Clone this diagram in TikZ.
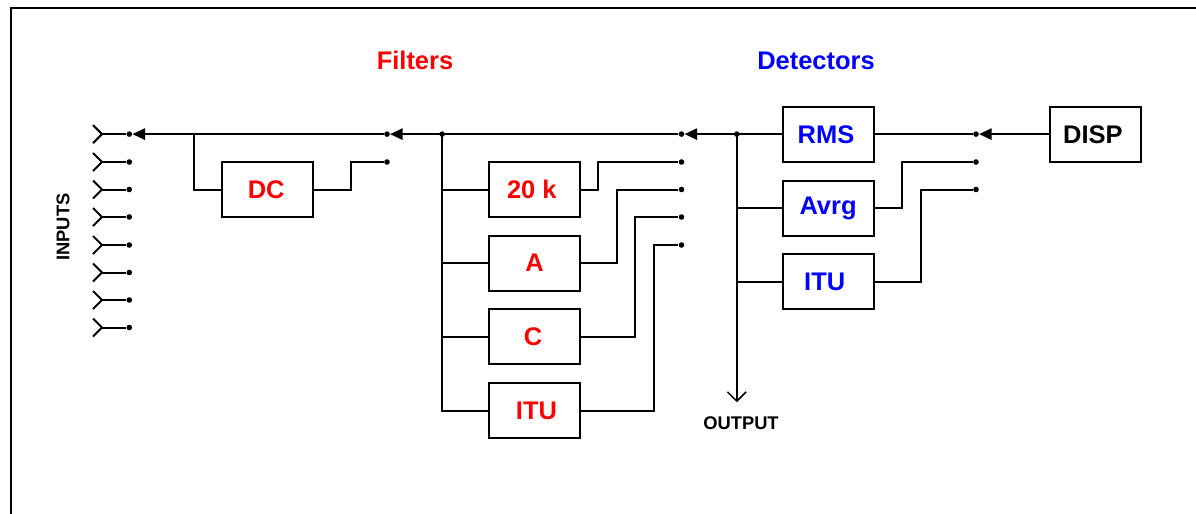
\documentclass[tikz,border=0pt]{standalone}
\usepackage{fontspec}
\setmainfont{Liberation Sans}
\usetikzlibrary{arrows.meta}
\newcommand{\shl}[2]{\hspace*{#1pt}\raisebox{-0.8pt}{#2}}
\tikzset{
  x=0.75pt,y=-0.75pt,
  wire/.style={line width=1.5pt,line join=miter},
  border/.style={line width=1.5pt},
  box/.style={draw,line width=1.5pt,minimum width=68.25pt,minimum height=41.25pt,inner sep=0pt,font=\fontsize{19.1}{22}\selectfont\bfseries},
  fbox/.style={box,text=red},
  dbox/.style={box,text=blue},
  kbox/.style={box,text=black},
  smalldot/.style={circle,fill=black,inner sep=0pt,minimum size=4.2pt},
  feed/.style={wire,-{Triangle[length=9.5pt,width=8.5pt]}},
  outarrow/.style={wire,-{Straight Barb[length=7pt,width=14pt,line width=1.1pt]}},
  title/.style={font=\fontsize{19.1}{22}\selectfont\bfseries},
  small/.style={font=\fontsize{13.75}{16}\selectfont\bfseries},
}
\begin{document}
\begin{tikzpicture}
\useasboundingbox (0,0) rectangle (1196,514);
\draw[border] (10.5,514) -- (10.5,7.5) -- (1196,7.5);

\node[title,text=red] (tf) at (415,60) {Filters};
\node[title,text=blue] (td) at (816,61) {Detectors};
\node[small,rotate=90] (tin) at (63,227) {INPUTS};
\node[small] (tout) at (741,423) {OUTPUT};

% boxes
\node[fbox] (dc) at (267.5,189.5) {\shl{-2}{DC}};
\node[fbox] (k20) at (534.5,189.5) {\shl{-4}{20 k}};
\node[fbox] (a) at (534.5,263.2) {\shl{0}{A}};
\node[fbox] (c) at (534.5,336.6) {\shl{-2}{C}};
\node[fbox] (ituf) at (534.5,410.5) {\shl{3}{ITU}};
\node[dbox] (rms) at (828.7,134.5) {\shl{-4}{RMS}};
\node[dbox] (avrg) at (828.7,208.2) {\shl{-1}{Avrg}};
\node[dbox] (itud) at (828.7,281.6) {\shl{-6}{ITU}};
\node[kbox] (disp) at (1095.5,134.5) {\shl{-4}{DISP}};

% input selector contacts
\foreach \n/\y in {1/134.1,2/162,3/189.5,4/217,5/245,6/272.5,7/300,8/327.5}{
  \node[smalldot] (in\n) at (129.3,\y) {};
  \coordinate (fk\n) at (102,\y);
  \coordinate (fu\n) at (93,\y-9);
  \coordinate (fd\n) at (93,\y+9);
  \draw[wire] (fu\n) -- (fk\n) -- (fd\n);
  \draw[wire] (fk\n) -- (in\n);
}
% filter selector contacts
\node[smalldot] (s1a) at (387,134.1) {};
\node[smalldot] (s1b) at (387,162) {};
\foreach \n/\y in {a/134.1,b/162,c/189.5,d/217,e/245}{
  \node[smalldot] (s2\n) at (681.5,\y) {};
}
\foreach \n/\y in {a/134.1,b/162,c/189.5}{
  \node[smalldot] (s3\n) at (976,\y) {};
}
\node[smalldot] (j1) at (442.1,134.1) {};
\node[smalldot] (j2) at (736.8,134.1) {};
\coordinate (j0) at (193.8,134.1);
\node[minimum size=0pt,inner sep=0pt] (o) at (736.8,402.5) {};

% main signal path
\draw[feed] (disp.west |- s3a) -- (s3a);
\draw[wire] (s3a) -- (rms.east |- s3a);
\draw[wire] (rms.west |- j2) -- (j2.center);
\draw[feed] (j2.center) -- (s2a);
\draw[wire] (s2a) -- (j1.center);
\draw[feed] (j1.center) -- (s1a);
\draw[wire] (s1a) -- (j0);
\draw[feed] (j0) -- (in1);

% DC filter
\draw[wire] (j0) |- (dc.west);
\draw[wire] (dc.east) -- ++(37.2,0) |- (s1b);

% filters
\draw[wire] (j1.center) |- (ituf.west);
\draw[wire] (j1.center) |- (k20.west);
\draw[wire] (j1.center) |- (a.west);
\draw[wire] (j1.center) |- (c.west);
\draw[wire] (k20.east) -- ++(17.4,0) |- (s2b);
\draw[wire] (a.east) -- ++(36.2,0) |- (s2c);
\draw[wire] (c.east) -- ++(54.4,0) |- (s2d);
\draw[wire] (ituf.east) -- ++(73.4,0) |- (s2e);

% detectors
\draw[outarrow] (j2.center) -- (o);
\draw[wire] (j2.center) |- (avrg.west);
\draw[wire] (j2.center) |- (itud.west);
\draw[wire] (avrg.east) -- ++(27,0) |- (s3b);
\draw[wire] (itud.east) -- ++(46,0) |- (s3c);
\end{tikzpicture}
\end{document}
